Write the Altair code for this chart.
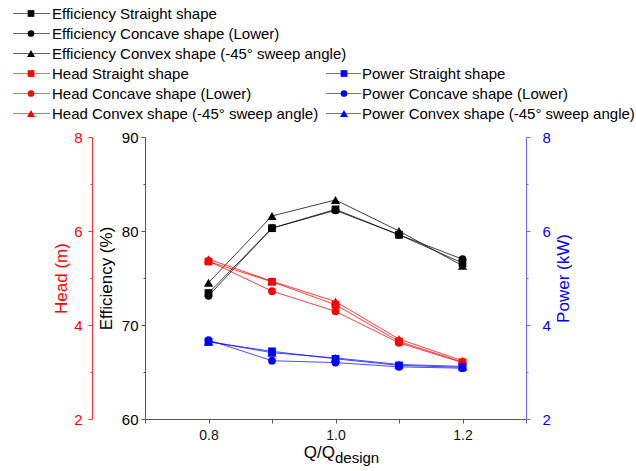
import altair as alt
import pandas as pd

# Flow ratio Q/Q_design
flow = [0.8, 0.9, 1.0, 1.1, 1.2]

# Efficiency (%)
eff_straight = [73.4, 80.3, 82.3, 79.6, 76.6]
eff_concave = [73.1, 80.3, 82.2, 79.6, 77.0]
eff_convex = [74.5, 81.6, 83.3, 80.0, 76.3]

# Head (m)
head_straight = [5.35, 4.92, 4.43, 3.65, 3.21]
head_concave = [5.36, 4.72, 4.29, 3.62, 3.20]
head_convex = [5.40, 4.93, 4.50, 3.70, 3.24]

# Power (kW)
power_straight = [3.64, 3.44, 3.28, 3.14, 3.10]
power_concave = [3.68, 3.24, 3.20, 3.11, 3.08]
power_convex = [3.65, 3.41, 3.30, 3.16, 3.12]

shape_names = ["Straight shape", "Concave shape (Lower)", "Convex shape (-45° sweep angle)"]
shape_symbols = ["square", "circle", "triangle-up"]

FONT = "Liberation Sans"
BLACK, RED, BLUE = "#000000", "#ff0000", "#0000ff"


def long_table(quantity, color, series_list):
    rows = []
    for name, sym, vals in zip(shape_names, shape_symbols, series_list):
        for q, v in zip(flow, vals):
            rows.append({"series": f"{quantity} {name}", "flow": q, "value": v,
                         "shape": sym, "color": color})
    return pd.DataFrame(rows)


eff_df = long_table("Efficiency", BLACK, [eff_straight, eff_concave, eff_convex])
head_df = long_table("Head", RED, [head_straight, head_concave, head_convex])
power_df = long_table("Power", BLUE, [power_straight, power_concave, power_convex])

X = alt.X(
    "flow:Q",
    scale=alt.Scale(domain=[0.7, 1.3], nice=False, zero=False),
    axis=alt.Axis(
        values=[0.7, 0.8, 0.9, 1.0, 1.1, 1.2, 1.3],
        labelExpr="round(datum.value*10) % 2 == 0 ? format(datum.value, '.1f') : ''",
        title=None, grid=False, domainColor="#555555", tickColor="#555555",
        tickSize=4, labelPadding=5, labelFont=FONT, labelFontSize=14,
        labelColor="#111111", labelFlush=False,
    ),
)

# triangles are drawn a little larger than squares and circles
MARK_SIZE = alt.condition("datum.shape == 'triangle-up'", alt.value(85), alt.value(60))


def y_axis(color, line_color, values, major, title, orient, offset, label_pad, title_pad, title_angle):
    return alt.Axis(
        orient=orient, offset=offset, values=values,
        labelExpr=f"datum.value % {major} == 0 ? datum.value : ''",
        grid=False, domainColor=line_color, tickColor=line_color,
        tickSize={"condition": {"test": f"datum.value % {major} != 0", "value": 2}, "value": 4},
        labelPadding=label_pad, labelFont=FONT, labelFontSize=15, labelColor=color,
        title=title, titleFont=FONT, titleFontSize=17, titleFontWeight="normal",
        titleColor=color, titlePadding=title_pad, titleAngle=title_angle,
    )


def series_layer(df, domain, axis, line_color, line_opacity):
    base = alt.Chart(df)
    y = alt.Y("value:Q", scale=alt.Scale(domain=domain, nice=False, zero=False), axis=axis)
    lines = base.mark_line(strokeWidth=1, opacity=line_opacity, color=line_color).encode(
        x=X, y=y, detail="series:N")
    points = base.mark_point(filled=True, opacity=1).encode(
        x=X, y=y,
        shape=alt.Shape("shape:N", scale=None),
        color=alt.Color("color:N", scale=None),
        size=MARK_SIZE,
    )
    return [lines, points]


# Manual legend: two blocks placed above the plot area (pixel offsets from plot origin)
legend_rows = []
left_entries = [("Efficiency", BLACK)] * 3 + [("Head", RED)] * 3
for i, (qty, col) in enumerate(left_entries):
    k = i % 3
    legend_rows.append({"label": f"{qty} {shape_names[k]}", "shape": shape_symbols[k], "color": col,
                        "x0": 13 - 145, "x1": 50 - 145, "xm": 31 - 145, "xt": 52 - 145,
                        "y": 13.5 + 20 * i - 137})
for k in range(3):
    legend_rows.append({"label": f"Power {shape_names[k]}", "shape": shape_symbols[k], "color": BLUE,
                        "x0": 326 - 145, "x1": 361 - 145, "xm": 344 - 145, "xt": 362 - 145,
                        "y": 13.5 + 20 * (k + 3) - 137})
legend_df = pd.DataFrame(legend_rows)

lg = alt.Chart(legend_df)
legend_lines = lg.mark_rule(strokeWidth=1, opacity=0.6).encode(
    x=alt.X("x0:Q", scale=None, axis=None), x2="x1:Q",
    y=alt.Y("y:Q", scale=None, axis=None),
    color=alt.Color("color:N", scale=None),
)
legend_marks = lg.mark_point(filled=True, opacity=1).encode(
    x=alt.X("xm:Q", scale=None, axis=None),
    y=alt.Y("y:Q", scale=None, axis=None),
    shape=alt.Shape("shape:N", scale=None),
    color=alt.Color("color:N", scale=None),
    size=alt.condition("datum.shape == 'triangle-up'", alt.value(65), alt.value(45)),
)
legend_text = lg.mark_text(align="left", baseline="middle", font=FONT, fontSize=15, color="#000000").encode(
    x=alt.X("xt:Q", scale=None, axis=None),
    y=alt.Y("y:Q", scale=None, axis=None),
    text="label:N",
)

# x-axis title with subscript
x_title_main = alt.Chart(pd.DataFrame({"t": ["Q/Q"]})).mark_text(
    align="right", baseline="alphabetic", font=FONT, fontSize=17, color="#000000"
).encode(x=alt.value(190), y=alt.value(321), text="t:N")
x_title_sub = alt.Chart(pd.DataFrame({"t": ["design"]})).mark_text(
    align="left", baseline="alphabetic", font=FONT, fontSize=15, color="#000000"
).encode(x=alt.value(190), y=alt.value(326), text="t:N")

eff_axis = y_axis("#000000", "#555555", [60, 65, 70, 75, 80, 85, 90], 10, "Efficiency (%)",
                  "left", 0, 3, 6, 270)
head_axis = y_axis(RED, "#ff3030", [2, 3, 4, 5, 6, 7, 8], 2, "Head (m)",
                   "left", 53, 6, 3, 270)
power_axis = y_axis(BLUE, "#6666ff", [2, 3, 4, 5, 6, 7, 8], 2, "Power (kW)",
                    "right", 0, 12, 22, 270)

eff_marks = series_layer(eff_df, [60, 90], eff_axis, BLACK, 0.75)
head_marks = series_layer(head_df, [2, 8], head_axis, RED, 0.75)
power_marks = series_layer(power_df, [2, 8], power_axis, BLUE, 0.7)

eff_layer = alt.layer(*eff_marks, legend_lines, legend_marks, legend_text, x_title_main, x_title_sub)
head_layer = alt.layer(*head_marks)
power_layer = alt.layer(*power_marks)

chart = (
    alt.layer(eff_layer, head_layer, power_layer)
    .resolve_scale(y="independent")
    .properties(
        width=381, height=282,
        autosize=alt.AutoSizeParams(type="none"),
        padding={"left": 145, "top": 137, "right": 110, "bottom": 52},
        background="white",
    )
    .configure_view(stroke=None)
)

chart.save("out.html", embed_options={"renderer": "svg", "actions": False})
